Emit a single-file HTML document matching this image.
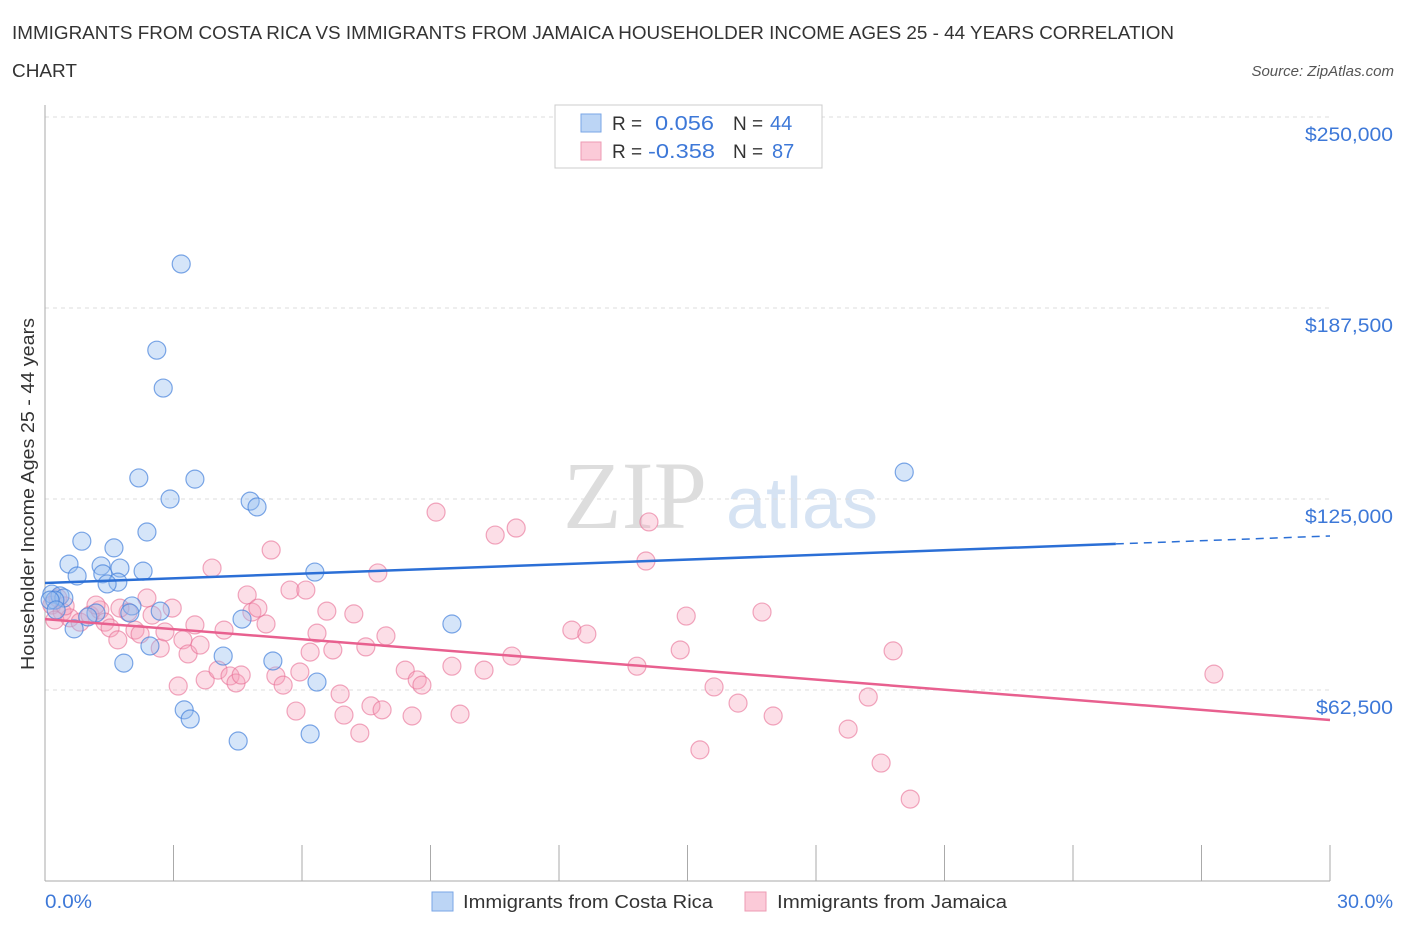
<!DOCTYPE html>
<html><head><meta charset="utf-8"><style>
body{margin:0;background:#fff;font-family:"Liberation Sans",sans-serif}
svg{display:block}
</style></head><body>
<svg id="c" width="1406" height="930" xmlns="http://www.w3.org/2000/svg">
<text x="12" y="39" font-size="18.5" fill="#333" textLength="1162" lengthAdjust="spacingAndGlyphs">IMMIGRANTS FROM COSTA RICA VS IMMIGRANTS FROM JAMAICA HOUSEHOLDER INCOME AGES 25 - 44 YEARS CORRELATION</text>
<text x="12" y="77" font-size="18.5" fill="#333" textLength="65" lengthAdjust="spacingAndGlyphs">CHART</text>
<text x="1394" y="76" font-size="15" fill="#555" font-style="italic" text-anchor="end">Source: ZipAtlas.com</text>
<text x="635" y="528" font-size="96" fill="#ddd" font-family="Liberation Serif,serif" text-anchor="middle">ZIP</text>
<text x="802" y="528" font-size="72" fill="#d6e3f3" text-anchor="middle">atlas</text>
<g id="grid"></g><g id="axes"></g><g id="pts"></g><g id="trend"></g>
<text x="34" y="494" font-size="18" fill="#333" text-anchor="middle" textLength="352" lengthAdjust="spacingAndGlyphs" transform="rotate(-90 34 494)">Householder Income Ages 25 - 44 years</text>
<text x="45" y="908" font-size="19" fill="#3d78d8" textLength="47" lengthAdjust="spacingAndGlyphs">0.0%</text>
<text x="1393" y="908" font-size="19" fill="#3d78d8" text-anchor="end" textLength="56" lengthAdjust="spacingAndGlyphs">30.0%</text>
<g>
<rect x="555" y="105" width="267" height="63" fill="#fff" stroke="#ccc"/>
<rect x="581" y="114" width="20" height="18" fill="#bcd5f5" stroke="#7aa6e6"/>
<rect x="581" y="142" width="20" height="18" fill="#fbcad8" stroke="#ee9bb3"/>
<text x="612" y="130" font-size="19" fill="#333">R = </text><text x="655" y="130" font-size="20" fill="#3d78d8" textLength="59" lengthAdjust="spacingAndGlyphs">0.056</text>
<text x="733" y="130" font-size="19" fill="#333">N = </text><text x="770" y="130" font-size="20" fill="#3d78d8">44</text>
<text x="612" y="158" font-size="19" fill="#333">R = </text><text x="648" y="158" font-size="20" fill="#3d78d8" textLength="67" lengthAdjust="spacingAndGlyphs">-0.358</text>
<text x="733" y="158" font-size="19" fill="#333">N = </text><text x="772" y="158" font-size="20" fill="#3d78d8">87</text>
</g>
<g>
<rect x="432" y="892" width="21" height="19" fill="#bcd5f5" stroke="#7aa6e6"/>
<text x="463" y="908" font-size="18.5" fill="#333" textLength="250" lengthAdjust="spacingAndGlyphs">Immigrants from Costa Rica</text>
<rect x="745" y="892" width="21" height="19" fill="#fbcad8" stroke="#ee9bb3"/>
<text x="777" y="908" font-size="18.5" fill="#333" textLength="230" lengthAdjust="spacingAndGlyphs">Immigrants from Jamaica</text>
</g>
</svg>
<script>
const yTicks=[62.5,125,187.5,250];
const yTickLabels=["$62,500","$125,000","$187,500","$250,000"];
const xTicks=[0,3,6,9,12,15,18,21,24,27,30];
const blueX=[3.18,2.61,2.76,20.06,2.19,3.50,2.92,4.79,4.95,2.38,0.86,1.61,0.56,1.31,2.29,6.30,0.75,1.35,1.75,1.70,1.45,0.16,0.35,0.44,0.23,2.03,2.69,1.98,1.19,1.00,4.60,9.50,0.68,2.45,4.16,1.84,5.32,6.35,3.25,3.39,4.51,6.19,0.12,0.26];
const blueY=[201.9,173.7,161.3,133.8,131.9,131.5,125.0,124.3,122.4,114.2,111.2,109.0,103.7,103.1,101.4,101.1,99.8,100.5,102.4,97.8,97.2,93.9,93.3,92.6,91.9,90.0,88.3,87.7,87.7,86.4,85.7,84.1,82.5,76.9,73.6,71.3,72.0,65.1,56.0,53.0,45.8,48.1,91.9,88.7];
const pinkX=[.16,.30,.40,.23,.58,.82,1.05,1.28,1.40,1.52,1.70,1.94,2.10,2.22,2.38,2.50,2.69,2.80,2.97,3.11,3.22,3.34,3.50,3.62,3.74,3.90,4.04,4.18,4.32,4.46,4.58,4.72,4.83,4.97,5.16,5.28,5.39,5.56,5.72,5.86,5.95,6.09,6.19,6.35,6.58,6.72,6.89,6.98,7.21,7.35,7.49,7.61,7.77,7.87,7.96,8.41,8.57,8.69,8.80,9.13,9.50,9.69,10.25,10.51,10.90,11.00,12.30,12.65,13.82,14.10,14.03,14.83,14.97,15.29,15.62,16.18,16.74,17.00,18.75,19.22,19.52,19.80,20.20,27.29,1.75,1.19,.47];
const pinkY=[90.3,92.6,88.0,85.4,86.1,84.7,87.0,88.7,84.7,82.8,78.9,88.0,82.1,80.8,92.6,87.0,76.2,81.5,89.3,63.8,78.9,74.3,83.8,77.2,65.8,102.4,69.0,82.1,67.1,64.8,67.4,93.6,88.0,89.3,84.1,108.3,67.1,64.1,95.2,55.6,68.4,95.2,74.9,81.1,88.3,75.6,61.2,54.3,87.4,48.4,76.6,57.3,100.8,56.0,80.2,69.0,54.0,65.8,64.1,120.7,70.3,54.6,69.0,113.2,73.6,115.5,82.1,80.8,70.3,117.5,104.7,75.6,86.7,42.9,63.5,58.2,88.0,54.0,49.7,60.2,38.6,75.3,26.8,67.7,89.3,90.3,90.0];
const blueTrend=[97.5,110.3,112.9];
const blueTrendX=[0,25,30];
const pinkTrend=[85.7,52.7];
const pinkTrendX=[0,30];
const NS="http://www.w3.org/2000/svg";
const X=v=>45+v*1285/30, Y=v=>881-v*191/62.5;
function mk(tag,attrs,parent){const e=document.createElementNS(NS,tag);for(const k in attrs)e.setAttribute(k,attrs[k]);document.getElementById(parent).appendChild(e);return e;}
yTicks.forEach((t,i)=>{
 const l=mk('line',{x1:45,x2:1330,y1:Y(t),y2:Y(t),stroke:'#ddd','stroke-dasharray':'4,4'},'grid');
 
 
 const tx=mk('text',{x:1393,y:Y(t)+24,'font-size':19.5,fill:'#3d78d8','text-anchor':'end'},'axes');
 tx.textContent=yTickLabels[i];
 tx.setAttribute('textLength',yTickLabels[i].length*11);
 tx.setAttribute('lengthAdjust','spacingAndGlyphs');
 
 
});
const ax=mk('line',{x1:45,x2:1330,y1:881,y2:881,stroke:'#aaa'},'axes');


const ay=mk('line',{x1:45,x2:45,y1:105,y2:881,stroke:'#aaa'},'axes');


xTicks.forEach(t=>{
 const l=mk('line',{x1:X(t),x2:X(t),y1:845,y2:881,stroke:'#aaa'},'axes');
 
 
});
pinkX.forEach((x,i)=>{
 const c=mk('circle',{cx:X(x),cy:Y(pinkY[i]),r:9,fill:'rgba(246,160,186,0.35)',stroke:'rgba(232,110,148,0.6)','stroke-width':1.2},'pts');
 
 
});
blueX.forEach((x,i)=>{
 const c=mk('circle',{cx:X(x),cy:Y(blueY[i]),r:9,fill:'rgba(150,190,240,0.4)',stroke:'rgba(70,130,220,0.7)','stroke-width':1.2},'pts');
 
 
});
const b1=mk('line',{x1:X(blueTrendX[0]),y1:Y(blueTrend[0]),x2:X(blueTrendX[1]),y2:Y(blueTrend[1]),stroke:'#2b6fd6','stroke-width':2.5},'trend');


const b2=mk('line',{x1:X(blueTrendX[1]),y1:Y(blueTrend[1]),x2:X(blueTrendX[2]),y2:Y(blueTrend[2]),stroke:'#2b6fd6','stroke-width':1.5,'stroke-dasharray':'8,6'},'trend');


const p1=mk('line',{x1:X(pinkTrendX[0]),y1:Y(pinkTrend[0]),x2:X(pinkTrendX[1]),y2:Y(pinkTrend[1]),stroke:'#e8608f','stroke-width':2.5},'trend');


</script>
</body></html>
